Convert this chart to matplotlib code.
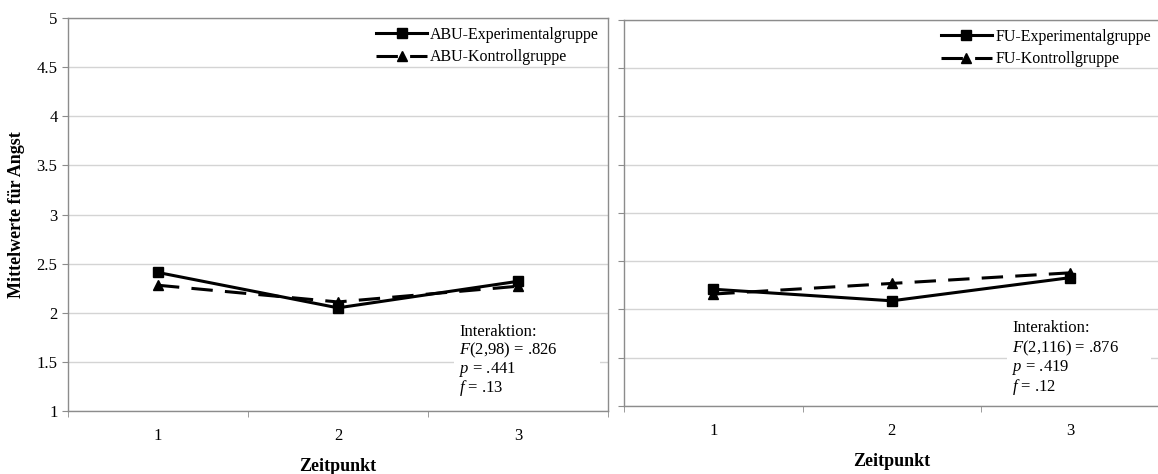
import matplotlib.pyplot as plt
from matplotlib.patches import Rectangle
from matplotlib.ticker import FixedLocator

plt.rcParams['font.family'] = ['Liberation Serif', 'DejaVu Serif']
plt.rcParams['mathtext.fontset'] = 'custom'
plt.rcParams['mathtext.it'] = 'Liberation Serif:italic'
plt.rcParams['mathtext.rm'] = 'Liberation Serif'

# Zeitpunkte und Mittelwerte
zeitpunkte = [1, 2, 3]
abu_experimental = [2.41, 2.05, 2.32]
abu_kontroll = [2.28, 2.11, 2.27]
fu_experimental = [2.21, 2.09, 2.33]
fu_kontroll = [2.16, 2.27, 2.38]

abu_stats = ['Interaktion:', r'$\it{F}$(2,98) = .826', r'$\it{p}$ = .441', r'$\it{f}$ = .13']
fu_stats = ['Interaktion:', r'$\it{F}$(2,116) = .876', r'$\it{p}$ = .419', r'$\it{f}$ = .12']

fig = plt.figure(figsize=(11.58, 4.74), dpi=100)
ax1 = fig.add_axes([0.0587, 0.1329, 0.4663, 0.8291])
ax2 = fig.add_axes([0.5389, 0.1435, 0.4624, 0.8143])

spine_col = '#8c8c8c'
grid_col = '#d4d4d4'


def draw_panel(ax, exp, kon, labels, stats, show_yticklabels, line_gap):
    ax.plot(zeitpunkte, exp, color='black', lw=2.2, marker='s', markersize=7,
            label=labels[0], zorder=4)
    ax.plot(zeitpunkte, kon, color='black', lw=2.2, marker='^', markersize=7,
            dashes=(7, 4), label=labels[1], zorder=3)
    ax.set_xlim(0.5, 3.5)
    ax.set_ylim(1, 5)
    ax.set_xticks(zeitpunkte)
    ax.xaxis.set_minor_locator(FixedLocator([0.5, 1.5, 2.5, 3.5]))
    ax.tick_params(axis='x', which='major', length=0, labelsize=12, pad=12)
    ax.tick_params(axis='x', which='minor', length=4, color=spine_col)
    ax.set_yticks([1, 1.5, 2, 2.5, 3, 3.5, 4, 4.5, 5])
    ax.set_yticklabels(['1', '1.5', '2', '2.5', '3', '3.5', '4', '4.5', '5'])
    ax.tick_params(axis='y', length=4, color=spine_col, labelsize=12,
                   labelleft=show_yticklabels)
    ax.grid(axis='y', color=grid_col, lw=1)
    ax.set_axisbelow(True)
    for s in ax.spines.values():
        s.set_color(spine_col)
        s.set_linewidth(1)
    ax.set_xlabel('Zeitpunkt', fontsize=13, fontweight='bold', labelpad=10)
    ax.legend(loc='upper right', frameon=False, fontsize=11.5,
              handlelength=3.2, handletextpad=0.2, labelspacing=0.4,
              borderaxespad=0.15)
    # weisser Hintergrund hinter dem Statistik-Block
    ax.add_patch(Rectangle((0.715, 0.03), 0.27, 0.2, transform=ax.transAxes,
                           facecolor='white', edgecolor='none', zorder=1))
    for i, line in enumerate(stats):
        ax.text(0.725, 0.201 - i * line_gap, line, transform=ax.transAxes,
                fontsize=12, va='center', ha='left', zorder=2)


draw_panel(ax1, abu_experimental, abu_kontroll,
           ['ABU-Experimentalgruppe', 'ABU-Kontrollgruppe'], abu_stats, True, 0.0477)
draw_panel(ax2, fu_experimental, fu_kontroll,
           ['FU-Experimentalgruppe', 'FU-Kontrollgruppe'], fu_stats, False, 0.0505)
ax2.spines['right'].set_visible(False)

ax1.set_ylabel('Mittelwerte für Angst', fontsize=13, fontweight='bold', labelpad=8)

fig.savefig('out.png', dpi=100)
